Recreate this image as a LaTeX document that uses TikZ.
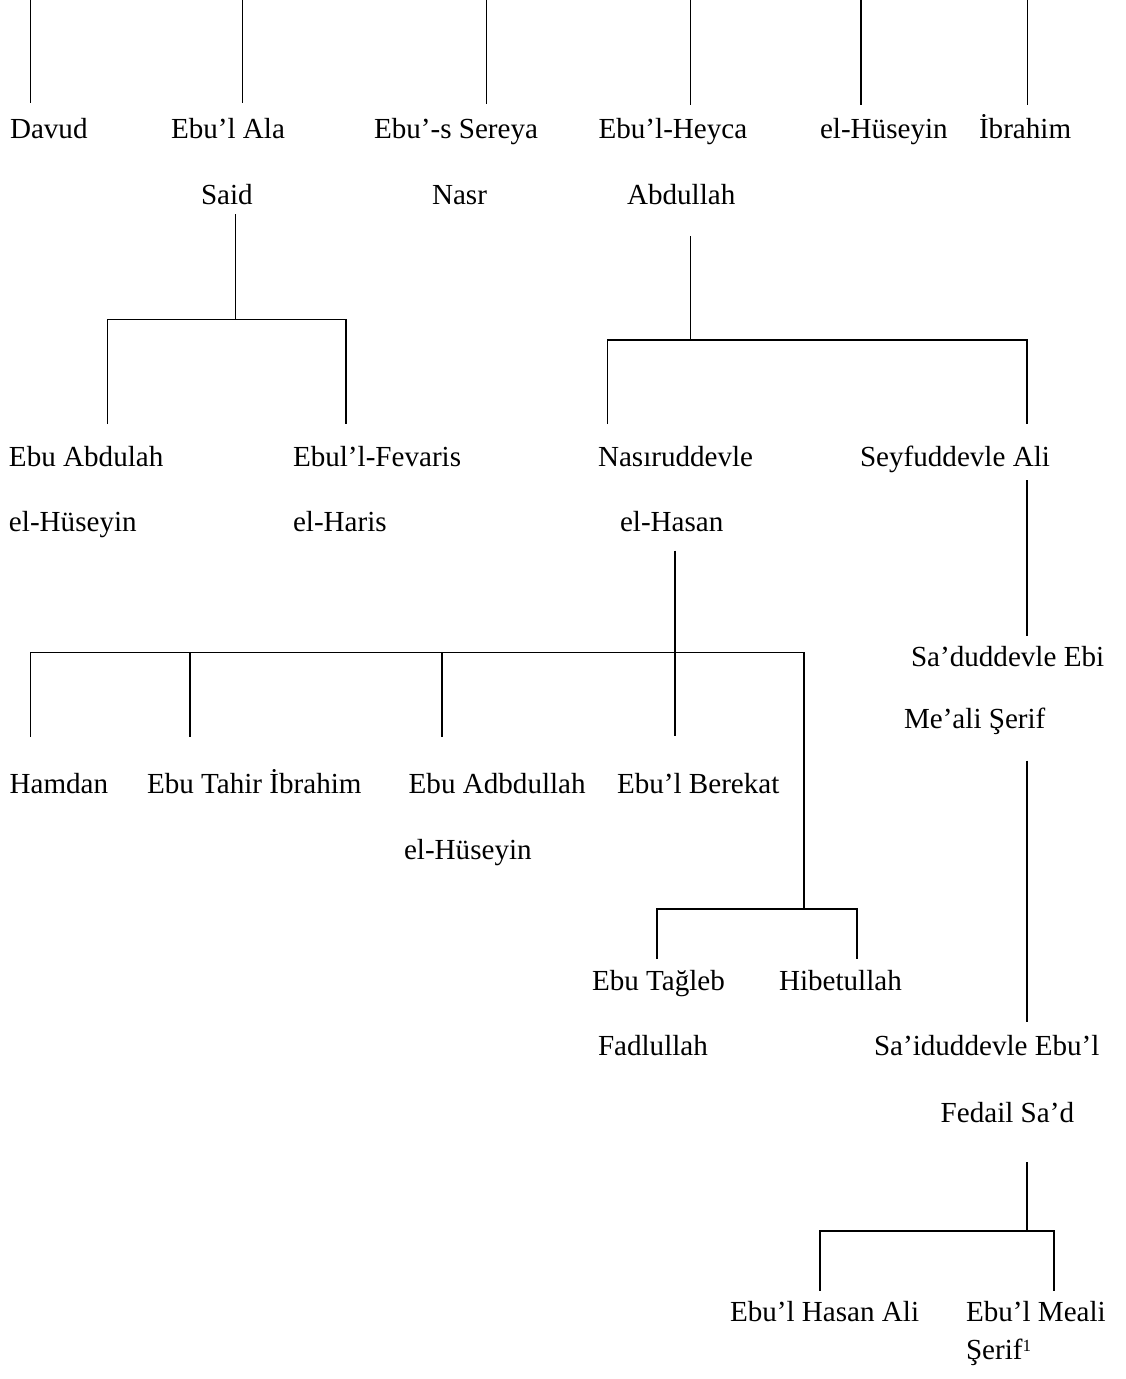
\documentclass[tikz,border=0pt]{standalone}
\usepackage{fontspec}
\setmainfont{Liberation Serif}
\begin{document}
\begin{tikzpicture}[x=1pt,y=-1pt,
  nm/.style={anchor=base west,inner sep=0pt,outer sep=0pt,font=\fontsize{29.1}{34}\selectfont},
  ln/.style={line width=1.4pt,line cap=butt,line join=miter}]
\useasboundingbox[fill=white] (0,0) rectangle (1125,1379);
% names
\node[nm] (davud) at (10,138.3) {Davud};
\node[nm] (ebulala) at (171,138.3) {Ebu’l Ala};
\node[nm] (sereya) at (374,138.3) {Ebu’-s Sereya};
\node[nm] (heyca) at (598.6,138.3) {Ebu’l-Heyca};
\node[nm] (husA) at (820,138.3) {el-Hüseyin};
\node[nm] (ibrahimA) at (979,138.3) {İbrahim};
\node[nm] (said) at (201,204) {Said};
\node[nm] (nasr) at (432,204) {Nasr};
\node[nm] (abdullah) at (627,204) {Abdullah};
\node[nm] (ebuabdulah) at (9,466) {Ebu Abdulah};
\node[nm] (fevaris) at (293,466) {Ebul’l-Fevaris};
\node[nm] (nasir) at (598,466) {Nasıruddevle};
\node[nm] (seyf) at (860,466) {Seyfuddevle Ali};
\node[nm] (husB) at (9,531) {el-Hüseyin};
\node[nm] (haris) at (293,531) {el-Haris};
\node[nm] (hasan) at (620,531) {el-Hasan};
\node[nm] (saduddevle) at (911,666) {Sa’duddevle Ebi};
\node[nm] (mealiserif) at (904,728) {Me’ali Şerif};
\node[nm] (hamdan) at (9.6,793) {Hamdan};
\node[nm] (tahir) at (147,793) {Ebu Tahir İbrahim};
\node[nm] (adbdullah) at (408.7,793) {Ebu Adbdullah};
\node[nm] (berekat) at (617,793) {Ebu’l Berekat};
\node[nm] (husC) at (404,859) {el-Hüseyin};
\node[nm] (tagleb) at (592,990) {Ebu Tağleb};
\node[nm] (hibet) at (779,990) {Hibetullah};
\node[nm] (fadlullah) at (598,1055) {Fadlullah};
\node[nm] (saiduddevle) at (874,1055) {Sa’iduddevle Ebu’l};
\node[nm] (fedail) at (940.7,1122) {Fedail Sa’d};
\node[nm] (hasanali) at (730,1321) {Ebu’l Hasan Ali};
\node[nm] (ebulmeali) at (966,1321) {Ebu’l Meali};
\node[nm] (serif) at (966,1359) {Şerif\raisebox{7.5pt}{\fontsize{17}{17}\selectfont 1}};
% connector points
\coordinate (t1) at (30.7,0);   \coordinate (b1) at (30.7,103);
\coordinate (t2) at (242.3,0);  \coordinate (b2) at (242.3,103);
\coordinate (t3) at (486.4,0);  \coordinate (b3) at (486.4,104);
\coordinate (t4) at (690.5,0);  \coordinate (b4) at (690.5,105);
\coordinate (t5) at (861,0);    \coordinate (b5) at (861,105);
\coordinate (t6) at (1027.4,0); \coordinate (b6) at (1027.4,105);
\coordinate (saidA) at (235.7,214);  \coordinate (saidB) at (235.7,319.5);
\coordinate (saidL) at (107.7,319.5); \coordinate (saidR) at (346,319.5);
\coordinate (saidLd) at (107.7,424);  \coordinate (saidRd) at (346,424);
\coordinate (abdA) at (690.3,236);  \coordinate (abdB) at (690.3,340);
\coordinate (abdL) at (607.7,340);  \coordinate (abdR) at (1027,340);
\coordinate (abdLd) at (607.7,424); \coordinate (abdRd) at (1027,424);
\coordinate (seyfA) at (1027,480);  \coordinate (seyfB) at (1027,636);
\coordinate (hasA) at (675,550.7);  \coordinate (hasB) at (675,736);
\coordinate (barL) at (30.6,652.5); \coordinate (barR) at (803.8,652.5);
\coordinate (barLd) at (30.6,736.7);
\coordinate (bar2u) at (189.8,652.5); \coordinate (bar2d) at (189.8,736.7);
\coordinate (bar3u) at (442,652.5);   \coordinate (bar3d) at (442,736.7);
\coordinate (barRd) at (803.8,909);
\coordinate (sbL) at (657,909);  \coordinate (sbR) at (857,909);
\coordinate (sbLd) at (657,959); \coordinate (sbRd) at (857,959);
\coordinate (meA) at (1027,760.7); \coordinate (meB) at (1027,1021.7);
\coordinate (fedA) at (1027,1162); \coordinate (fedB) at (1027,1231);
\coordinate (fedL) at (820,1231);  \coordinate (fedR) at (1054,1231);
\coordinate (fedLd) at (820,1290.7); \coordinate (fedRd) at (1054,1290.7);
% connectors
\draw[ln] (t1) -- (b1);
\draw[ln] (t2) -- (b2);
\draw[ln] (t3) -- (b3);
\draw[ln] (t4) -- (b4);
\draw[ln] (t5) -- (b5);
\draw[ln] (t6) -- (b6);
\draw[ln] (saidA) -- (saidB);
\draw[ln] (saidLd) -- (saidL) -- (saidR) -- (saidRd);
\draw[ln] (abdA) -- (abdB);
\draw[ln] (abdLd) -- (abdL) -- (abdR) -- (abdRd);
\draw[ln] (seyfA) -- (seyfB);
\draw[ln] (hasA) -- (hasB);
\draw[ln] (barLd) -- (barL) -- (barR) -- (barRd);
\draw[ln] (bar2u) -- (bar2d);
\draw[ln] (bar3u) -- (bar3d);
\draw[ln] (sbLd) -- (sbL) -- (sbR) -- (sbRd);
\draw[ln] (meA) -- (meB);
\draw[ln] (fedA) -- (fedB);
\draw[ln] (fedLd) -- (fedL) -- (fedR) -- (fedRd);
\end{tikzpicture}
\end{document}
